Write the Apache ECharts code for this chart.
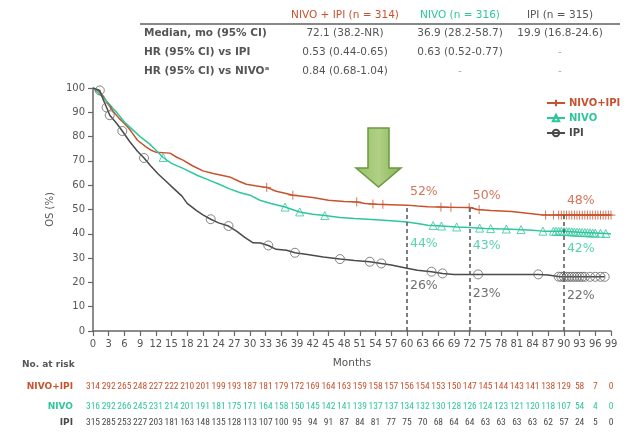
<!DOCTYPE html>
<html>
<head>
<meta charset="utf-8">
<script src="https://cdn.jsdelivr.net/npm/echarts@6/dist/echarts.min.js"></script>
<style>html,body{margin:0;padding:0;background:#fff;}#c{width:626px;height:434px;}</style>
</head>
<body>
<div id="c"></div>
<script>
// ---------------- DATA ----------------
const armNames = ['NIVO+IPI', 'NIVO', 'IPI'];
const xTicks = { min: 0, max: 99, interval: 3 };
const yTicks = { min: 0, max: 100, interval: 10 };

// Kaplan-Meier curves [month, OS %]
const curveCombo = [[0,100],[1,99],[2,96.5],[3,93],[4,90],[5,87.5],[6,85.4],[7,83],[7.6,81.2],[8.5,78.5],[10.2,75.7],[11,74.5],[12,73.6],[14.7,73.2],[16,71.5],[17.2,70.3],[19,68],[21,65.9],[23,64.8],[26.1,63.4],[28,61.5],[29.3,60.4],[31,59.8],[33.2,59.1],[35,57.5],[36.5,56.8],[38.2,55.9],[40,55.5],[42,54.9],[45,53.8],[48,53.3],[50.4,53.1],[52,52.5],[54,52.2],[57,52],[60,51.8],[62,51.4],[64,51.1],[68,50.9],[72,50.8],[73.5,50],[76,49.6],[80,49.2],[83,48.5],[86,47.7],[99,47.7]];
const curveNivo = [[0,100],[1,98],[2,96],[3,93.5],[4.5,90],[6,86],[7,84],[9,80],[10.8,77],[12,74.5],[13.4,71.4],[15,69],[17.2,66.9],[20,64],[22.3,62],[24,60.5],[26.1,58.5],[28,57],[30,55.9],[31.9,53.8],[34,52.5],[36.7,51],[39.5,49],[42,48],[44.3,47.5],[47.2,46.7],[50,46.3],[54,45.8],[57,45.4],[60,44.9],[62,44.2],[64,43.5],[66.6,43.2],[69.5,42.8],[72,42.6],[75,42.2],[80,41.9],[84,41.5],[86,41.1],[90,41],[93,40.6],[96,40.3],[99,40]];
const curveIpi = [[0,100],[1.3,99],[2,95],[2.6,92],[3.2,88.8],[4.5,85.5],[5.6,82.3],[7,78],[8.5,74],[9.75,71.2],[11,68],[12.5,64.5],[14,61.5],[15.5,58.5],[17,55.5],[18,52.5],[19.8,49.5],[21,47.8],[22.5,46],[24,44.5],[25.9,43.2],[27.5,41],[29,38.5],[30.6,36.3],[32,36.2],[33.5,35.2],[35,33.6],[37,33.2],[38.6,32.2],[41,31.5],[44,30.5],[47.2,29.6],[50,29],[52.9,28.5],[55.1,27.8],[57,27.2],[60,25.8],[62,25],[64.7,24.4],[66.8,23.7],[69,23.3],[85.1,23.3],[87,23],[89.2,22.3],[97.8,22.3]];

// Censoring times (months)
const censorCombo = [33.2,38.2,50.4,53.5,55.4,66.5,68.4,71.9,73.8,86.5,88,89,89.5,90,90.5,91,91.5,92,92.5,93,93.5,94,94.5,95,95.5,96,96.5,97,97.5,98,98.5,99];
const censorNivo = [13.4,36.7,39.5,44.3,65,66.6,69.5,73.9,76,79,81.8,86,88,88.5,89,89.5,90,90.5,91,91.5,92,92.5,93,93.5,94,94.5,95,95.5,96,97,98];
const censorIpi = [1.3,2.6,3.2,5.6,9.75,22.5,25.9,33.5,38.6,47.2,52.9,55.1,64.7,66.8,73.6,85.1,89,89.5,90,90.5,91,91.5,92,92.5,93,93.5,94,95,96,97,97.8];

// Landmark OS estimates
const landmarkMonths = [60, 72, 90];
const landmarkCombo = [52, 50, 48];
const landmarkNivo = [44, 43, 42];
const landmarkIpi = [26, 23, 22];

// Number at risk (every 3 months, 0..99)
const riskCombo = [314,292,265,248,227,222,210,201,199,193,187,181,179,172,169,164,163,159,158,157,156,154,153,150,147,145,144,143,141,138,129,58,7,0];
const riskNivo = [316,292,266,245,231,214,201,191,181,175,171,164,158,150,145,142,141,139,137,137,134,132,130,128,126,124,123,121,120,118,107,54,4,0];
const riskIpi = [315,285,253,227,203,181,163,148,135,128,113,107,100,95,94,91,87,84,81,77,75,70,68,64,64,63,63,63,63,62,57,24,5,0];

// Summary table
const tableHeader = ['NIVO + IPI (n = 314)', 'NIVO (n = 316)', 'IPI (n = 315)'];
const tableRows = [
  ['Median, mo (95% CI)', '72.1 (38.2-NR)', '36.9 (28.2-58.7)', '19.9 (16.8-24.6)'],
  ['HR (95% CI) vs IPI', '0.53 (0.44-0.65)', '0.63 (0.52-0.77)', '-'],
  ['HR (95% CI) vs NIVO\u1d43', '0.84 (0.68-1.04)', '-', '-']
];

// ---------------- STYLE / LAYOUT ----------------
const RED = '#c8522e', GREEN = '#2ec79c', GREY = '#4a4a4a', TXT = '#555';
const FONT = 'DejaVu Sans';
const NUMFONT = "'Liberation Sans Narrow', 'Roboto Condensed', 'DejaVu Sans Condensed', Roboto";
const grid = { left: 93, right: 15, top: 88, bottom: 103 };
const labelOffset = { combo: 5.5, nivo: -8, ipi: -7.5 };
const plusPath = 'path://M0,5L10,5M5,0L5,10';

function interp(curve, t) {
  for (let i = 0; i < curve.length - 1; i++) {
    const a = curve[i], b = curve[i + 1];
    if (t >= a[0] && t <= b[0]) return a[1] + (b[1] - a[1]) * (t - a[0]) / (b[0] - a[0] || 1);
  }
  return curve[curve.length - 1][1];
}

const chart = echarts.init(document.getElementById('c'), null, { renderer: 'canvas' });

function riskAxis(name, arr, color, offset) {
  return {
    type: 'value', gridIndex: 0, position: 'bottom', offset: offset,
    min: xTicks.min, max: xTicks.max, interval: xTicks.interval,
    axisLine: { show: false }, axisTick: { show: false }, splitLine: { show: false },
    axisLabel: {
      interval: 0, margin: 0, verticalAlign: 'middle', color: color, fontSize: 9.5, fontFamily: NUMFONT,
      formatter: v => { const i = Math.round(v / xTicks.interval); return arr[i] !== undefined ? String(arr[i]) : ''; }
    },
    name: name, nameLocation: 'start', nameGap: 20,
    nameTextStyle: { color: color, fontWeight: 'bold', fontSize: 9, fontFamily: FONT, verticalAlign: 'middle', align: 'right' }
  };
}

const curveSeries = (name, data, color, symbol, symbolSize) => ({
  name, type: 'line', data, color, showSymbol: false, symbol, symbolSize,
  lineStyle: { color, width: 1.5 }, itemStyle: { color: 'rgba(255,255,255,0)', borderColor: color, borderWidth: 1 },
  z: 3, silent: true, animation: false
});
const censorSeries = (name, times, curve, color, symbol, size) => ({
  name, type: 'scatter', data: times.map(t => [t, interp(curve, t)]), symbol, symbolSize: size,
  itemStyle: { color: 'rgba(255,255,255,0)', borderColor: color, borderWidth: 1 }, z: 4, silent: true, animation: false
});
const labelSeries = (pcts, color, off) => ({
  type: 'scatter', symbolSize: 0, silent: true, animation: false,
  data: landmarkMonths.map((m, i) => ({ value: [m, pcts[i] + off], pct: pcts[i] })),
  label: { show: true, position: 'right', distance: 3, color, fontSize: 12.5, fontFamily: FONT,
    formatter: p => p.data.pct + '%' }
});

const graphics = [];
// table
const colX = [345, 460, 560];
graphics.push({ type: 'line', shape: { x1: 140, y1: 24, x2: 620, y2: 24 }, style: { stroke: '#888', lineWidth: 2 } });
const headColors = [RED, GREEN, TXT];
tableHeader.forEach((h, i) => graphics.push({ type: 'text', x: colX[i], y: 15, style: { text: h, fill: headColors[i], font: '10.5px ' + FONT, align: 'center', verticalAlign: 'middle' } }));
const rowY = [33, 52, 71];
tableRows.forEach((r, ri) => {
  graphics.push({ type: 'text', x: 144, y: rowY[ri], style: { text: r[0], fill: TXT, font: 'bold 10.5px ' + FONT, align: 'left', verticalAlign: 'middle' } });
  for (let c = 1; c < 4; c++) graphics.push({ type: 'text', x: colX[c - 1], y: rowY[ri], style: { text: r[c], fill: r[c] === '-' ? '#aaa' : TXT, font: '10.5px ' + FONT, align: 'center', verticalAlign: 'middle' } });
});
graphics.push({ type: 'text', x: 22, y: 365, style: { text: 'No. at risk', fill: TXT, font: 'bold 9px ' + FONT, align: 'left', verticalAlign: 'middle' } });
// green arrow annotation
graphics.push({ type: 'polygon', shape: { points: [[368,128],[389,128],[389,168],[401,168],[378.5,187],[356,168],[368,168]] },
  style: { fill: new echarts.graphic.LinearGradient(0,0,1,0,[{offset:0,color:'#98c064'},{offset:0.5,color:'#b0d084'},{offset:1,color:'#88b456'}]), stroke: '#6a9842', lineWidth: 1.5 }, z: 10 });

const option = {
  animation: false,
  backgroundColor: '#fff',
  grid: grid,
  legend: {
    orient: 'vertical', left: 541, top: 93, itemGap: 5, itemWidth: 18, itemHeight: 8,
    data: [
      { name: 'NIVO+IPI', textStyle: { color: RED } },
      { name: 'NIVO', textStyle: { color: GREEN } },
      { name: 'IPI', textStyle: { color: GREY } }
    ],
    textStyle: { fontWeight: 'bold', fontSize: 10, fontFamily: FONT, padding: [0, 0, 0, -1] }
  },
  xAxis: [
    {
      type: 'value', min: xTicks.min, max: xTicks.max, interval: xTicks.interval,
      name: 'Months', nameLocation: 'middle', nameGap: 27,
      nameTextStyle: { color: TXT, fontSize: 10.5, fontFamily: FONT },
      axisLine: { lineStyle: { color: '#666', width: 1.5 } },
      axisTick: { show: true, length: 5, lineStyle: { color: '#666', width: 1.2 } },
      axisLabel: { interval: 0, color: TXT, fontSize: 10, fontFamily: FONT, margin: 8 },
      splitLine: { show: false }
    },
    riskAxis('NIVO+IPI', riskCombo, RED, 56),
    riskAxis('NIVO', riskNivo, GREEN, 76),
    riskAxis('IPI', riskIpi, GREY, 92)
  ],
  yAxis: {
    type: 'value', min: yTicks.min, max: yTicks.max, interval: yTicks.interval,
    name: 'OS (%)', nameLocation: 'middle', nameGap: 36,
    nameTextStyle: { color: TXT, fontSize: 10, fontFamily: FONT },
    axisLine: { show: true, lineStyle: { color: '#666', width: 1.5 } },
    axisTick: { show: true, length: 5, lineStyle: { color: '#666', width: 1.2 } },
    axisLabel: { color: TXT, fontSize: 10, fontFamily: FONT, margin: 8 },
    splitLine: { show: false }
  },
  series: [
    Object.assign(curveSeries('NIVO+IPI', curveCombo, RED, plusPath, 9), {
      markLine: {
        silent: true, symbol: 'none', animation: false, label: { show: false },
        lineStyle: { type: [4, 3], color: '#555', width: 1.5 },
        data: landmarkMonths.map(m => [{ coord: [m, 0] }, { coord: [m, interp(curveCombo, m)] }])
      }
    }),
    curveSeries('NIVO', curveNivo, GREEN, 'triangle', 8),
    curveSeries('IPI', curveIpi, GREY, 'circle', 8),
    censorSeries('NIVO+IPI', censorCombo, curveCombo, RED, plusPath, 9),
    censorSeries('NIVO', censorNivo, curveNivo, GREEN, 'triangle', 8),
    censorSeries('IPI', censorIpi, curveIpi, '#666', 'circle', 9),
    labelSeries(landmarkCombo, RED, labelOffset.combo),
    labelSeries(landmarkNivo, GREEN, labelOffset.nivo),
    labelSeries(landmarkIpi, GREY, labelOffset.ipi)
  ],
  graphic: graphics
};
chart.setOption(option);
</script>
</body>
</html>
